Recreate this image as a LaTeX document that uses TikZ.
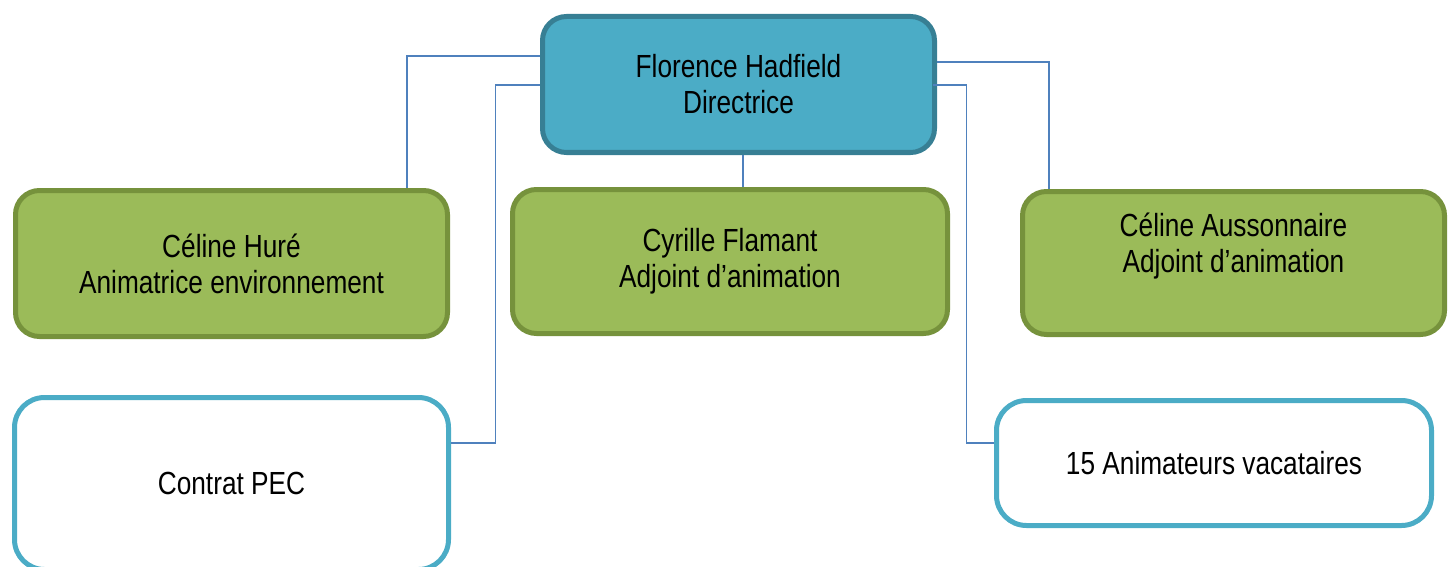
\documentclass[tikz,border=0pt]{standalone}
\usepackage{fontspec}
\setmainfont{Liberation Sans}[FakeStretch=0.82]
\usepackage{xcolor}
\usepackage{tikz}
\definecolor{teal}{HTML}{4BACC6}
\definecolor{tealdark}{HTML}{377F94}
\definecolor{leaf}{HTML}{9BBB59}
\definecolor{leafdark}{HTML}{76923C}
\definecolor{linkblue}{HTML}{4F81BD}

\begin{document}
\begin{tikzpicture}[x=1pt,y=-1pt,
    box/.style={rectangle,rounded corners=24pt,line width=5pt,align=center,
      font=\fontsize{32}{36}\selectfont,inner sep=0pt},
    chief/.style={box,fill=teal,draw=tealdark},
    deputy/.style={box,fill=leaf,draw=leafdark},
    extra/.style={box,fill=white,draw=teal,rounded corners=30pt},
    link/.style={draw=linkblue,line width=1.6pt}]
   \useasboundingbox (0,0) rectangle (1448,567);
   \node[chief,minimum width=392pt,minimum height=136pt] (boss) at (738.5,84.5) {Florence Hadfield\\Directrice};
   \node[deputy,minimum width=432pt,minimum height=146pt] (hure) at (231.5,263.5) {C\'eline Hur\'e\\Animatrice environnement};
   \node[deputy,minimum width=435pt,minimum height=144pt] (cyr) at (730,261.5) {Cyrille Flamant\\Adjoint d'animation};
   \node[deputy,minimum width=422pt,minimum height=143pt] (aus) at (1233.5,263) {};
   \node[font=\fontsize{32}{36}\selectfont,align=center] (austext) at ([yshift=16.5pt]aus.center) {C\'eline Aussonnaire\\Adjoint d'animation};
   \node[extra,minimum width=434pt,minimum height=172pt] (pec) at (231.5,483.5) {Contrat PEC};
   \node[extra,minimum width=435pt,minimum height=125pt] (anim) at (1214,463) {15 Animateurs vacataires};
    % liaisons
    \draw[link] ([yshift=28.5pt]boss.west) -| ([xshift=175.5pt]hure.north);
    \draw[link] ([yshift=-0.5pt]boss.west) -- ++(-44.5,0) |- ([yshift=40.5pt]pec.east);
    \draw[link] ([xshift=4.5pt]boss.south) -- ([xshift=4.5pt]boss.south |- cyr.north);
    \draw[link] ([yshift=22.5pt]boss.east) -| ([xshift=-184.5pt]aus.north);
    \draw[link] ([xshift=-4.5pt,yshift=-0.5pt]boss.east) -- ++(34,0) |- ([yshift=20pt]anim.west);
\end{tikzpicture}
\end{document}
